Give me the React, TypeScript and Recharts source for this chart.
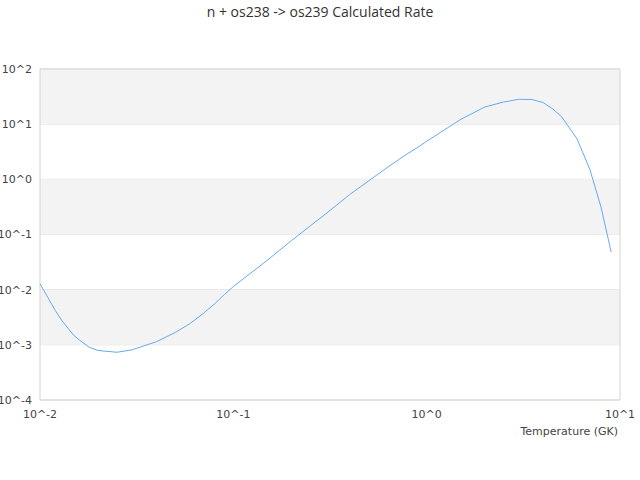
import { CartesianGrid, Label, Line, LineChart, ReferenceArea, XAxis, YAxis } from "recharts";

// temperature (GK) and calculated rate
const temps = [
  0.01, 0.011, 0.012, 0.013, 0.014, 0.015, 0.016, 0.018, 0.02, 0.025, 0.03, 0.04, 0.05, 0.06, 0.07,
  0.08, 0.09, 0.1, 0.15, 0.2, 0.3, 0.4, 0.5, 0.6, 0.7, 0.8, 0.9, 1, 1.5, 2, 2.5, 3, 3.5, 4, 4.5, 5,
  6, 7, 8, 9,
];
const rates = [
  0.0128, 0.00714, 0.00419, 0.00273, 0.00197, 0.00147, 0.00122, 0.000903, 0.00079, 0.000733,
  0.000813, 0.00114, 0.00167, 0.00246, 0.00372, 0.00555, 0.00818, 0.0114, 0.0342, 0.078, 0.235,
  0.53, 0.93, 1.48, 2.15, 2.95, 3.8, 4.9, 12.2, 20.5, 25.2, 28.2, 28.0, 24.7, 18.8, 13.5, 5.39,
  1.48, 0.303, 0.0482,
];

const xTicks = [0.01, 0.1, 1, 10];
const yTicks = [0.0001, 0.001, 0.01, 0.1, 1, 10, 100];
// shaded decades [low, high]
const bandLow = [10, 0.1, 0.001];
const bandHigh = [100, 1, 0.01];

const TITLE = "n + os238 -> os239 Calculated Rate";
const X_TITLE = "Temperature (GK)";

const data = temps.map((t, i) => ({ t, rate: rates[i] }));

function pow10Label(v: number): string {
  return `10^${Math.round(Math.log10(v))}`;
}

const TICK = { fill: "#444", fontSize: 11, fontFamily: "DejaVu Sans" };

export default function App() {
  return (
    <div style={{ position: "absolute", left: 0, top: 0, width: 640, height: 480, background: "#fff" }}>
      <div
        style={{
          position: "absolute",
          top: 2,
          left: 0,
          width: 640,
          textAlign: "center",
          fontFamily: "Open Sans",
          fontSize: 14,
          color: "#333",
          lineHeight: "20px",
        }}
      >
        {TITLE}
      </div>
      <LineChart width={640} height={480} data={data} margin={{ top: 69, right: 20, bottom: 0, left: 0 }}>
        {bandLow.map((lo, i) => (
          <ReferenceArea
            key={lo}
            x1={0.01}
            x2={10}
            y1={lo}
            y2={bandHigh[i]}
            fill="#f3f3f3"
            fillOpacity={1}
            stroke="none"
          />
        ))}
        <CartesianGrid vertical={false} stroke="#e2e2e2" />
        <ReferenceArea x1={0.01} x2={10} y1={0.0001} y2={100} fill="none" stroke="#d4d4d4" />
        <XAxis
          dataKey="t"
          type="number"
          scale="log"
          domain={[0.01, 10]}
          ticks={xTicks}
          tickFormatter={pow10Label}
          tick={TICK}
          tickLine={false}
          tickSize={0}
          tickMargin={10}
          axisLine={false}
          height={80}
          interval={0}
        >
          <Label
            content={(props: any) => {
              const vb = props.viewBox || { x: 40, y: 400, width: 580 };
              return (
                <text
                  x={vb.x + vb.width - 2}
                  y={vb.y + 35}
                  textAnchor="end"
                  fill="#444"
                  fontSize={11}
                  fontFamily="DejaVu Sans"
                >
                  {X_TITLE}
                </text>
              );
            }}
          />
        </XAxis>
        <YAxis
          type="number"
          scale="log"
          domain={[0.0001, 100]}
          ticks={yTicks}
          tickFormatter={pow10Label}
          tick={TICK}
          tickLine={false}
          tickSize={0}
          tickMargin={8}
          axisLine={false}
          width={40}
          interval={0}
        />
        <Line
          type="linear"
          dataKey="rate"
          stroke="#66aaf0"
          strokeWidth={1}
          dot={false}
          isAnimationActive={false}
        />
      </LineChart>
    </div>
  );
}
